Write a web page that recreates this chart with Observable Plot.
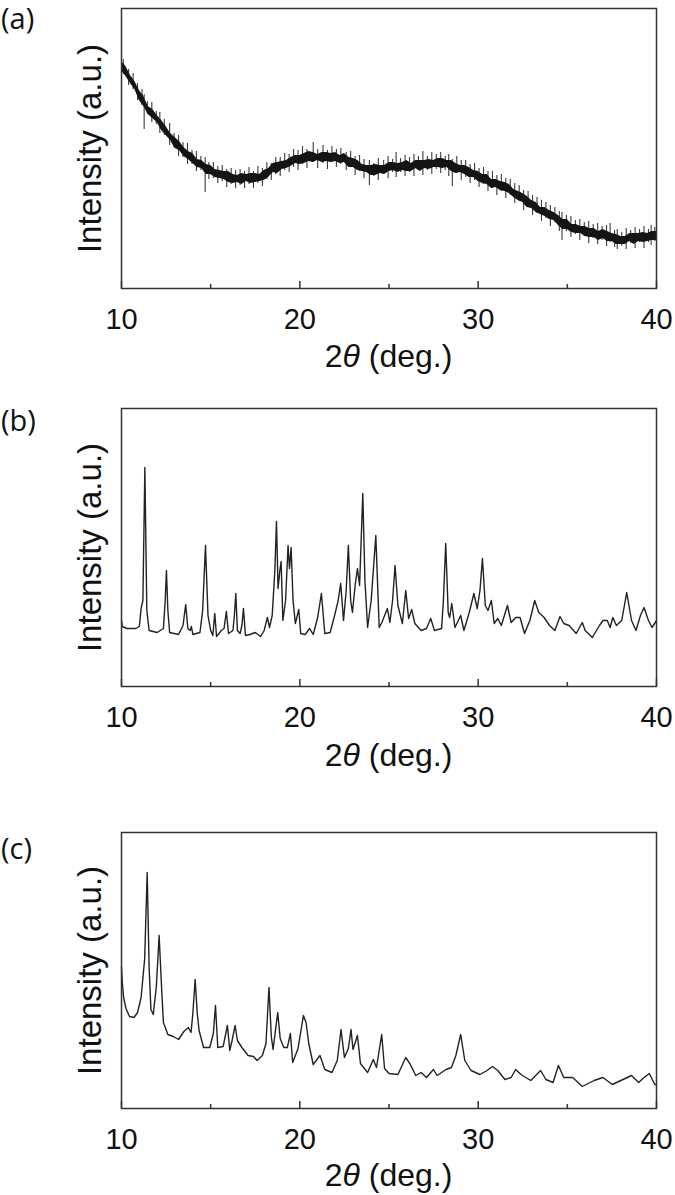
<!DOCTYPE html>
<html><head><meta charset="utf-8">
<script src="https://cdn.jsdelivr.net/npm/d3@7"></script>
<script src="https://cdn.jsdelivr.net/npm/@observablehq/plot@0.6"></script>
<style>
body{margin:0;background:#fff;width:675px;height:1195px;position:relative;overflow:hidden;font-family:"Liberation Sans",Arial,sans-serif;color:#111;}
.panel{position:absolute;left:0;width:675px;z-index:1;}
.tag{position:absolute;left:1px;z-index:3;font-family:"Open Sans","Noto Sans",sans-serif;font-size:29px;line-height:32px;}
.xlabel{position:absolute;left:121px;width:535px;z-index:3;text-align:center;font-size:32px;line-height:36px;}
</style></head>
<body>
<div class="tag" style="top:2px">(a)</div>
<div class="tag" style="top:404px">(b)</div>
<div class="tag" style="top:832px">(c)</div>
<div id="pa" class="panel" style="top:0px"></div>
<div id="pb" class="panel" style="top:400px"></div>
<div id="pc" class="panel" style="top:824px"></div>
<div class="xlabel" style="top:338px">2<i>θ</i> (deg.)</div>
<div class="xlabel" style="top:737px">2<i>θ</i> (deg.)</div>
<div class="xlabel" style="top:1157px">2<i>θ</i> (deg.)</div>
<script>
// tick values
const majorTicks = [10, 20, 30, 40];
const minorTicks = [15, 25, 35];

// (a) amorphous pattern: centre of the noisy band and its spread (a.u.)
const aAngle = [10,10.25,10.5,10.75,11,11.25,11.5,11.75,12,12.25,12.5,12.75,13,13.25,13.5,13.75,14,14.25,14.5,14.75,15,15.25,15.5,15.75,16,16.25,16.5,16.75,17,17.25,17.5,17.75,18,18.25,18.5,18.75,19,19.25,19.5,19.75,20,20.25,20.5,20.75,21,21.25,21.5,21.75,22,22.25,22.5,22.75,23,23.25,23.5,23.75,24,24.25,24.5,24.75,25,25.25,25.5,25.75,26,26.25,26.5,26.75,27,27.25,27.5,27.75,28,28.25,28.5,28.75,29,29.25,29.5,29.75,30,30.25,30.5,30.75,31,31.25,31.5,31.75,32,32.25,32.5,32.75,33,33.25,33.5,33.75,34,34.25,34.5,34.75,35,35.25,35.5,35.75,36,36.25,36.5,36.75,37,37.25,37.5,37.75,38,38.25,38.5,38.75,39,39.25,39.5,39.75,40];
const aCenter = [223,216,210,202,194,186,179,174,169,163,158,152,146,141,137,133,129,126,123,120,118,116,114,112,111,110,110,110,110,110,110,111,113,116,119,121,123,125,126,128,129,130,131,132,131,131,131,131,131,130,129,127,125,123,121,119,118,118,119,120,121,121,121,122,122,122,123,123,124,124,125,125,125,124,122,121,120,118,116,114,112,110,108,106,104,103,101,99,96,93,89,87,84,81,78,76,74,71,68,65,63,61,59,58,57,56,55,54,53,52,51,49,48,49,50,50,51,51,51,52,53];
const aUp = [4,6,3,5,4,6,3,5,4,5,4,3,5,6,4,4,6,3,5,4,5,3,4,5,6,4,3,5,4,5,5,3,5,4,6,5,4,3,5,5,4,5,6,4,3,5,5,4,5,3,6,4,5,5,3,4,5,6,4,3,5,5,4,4,6,3,5,5,4,5,3,5,5,4,6,4,3,5,5,4,5,4,6,3,5,4,5,5,3,4,6,5,4,5,3,5,4,5,5,4,6,3,5,4,5,4,5,3,6,5,4,5,4,3,5,5,4,5,4,5,4];
const aDown = [5,4,5,3,6,4,5,4,3,5,5,4,6,3,5,4,4,5,3,6,4,5,4,3,5,5,4,6,3,5,4,4,5,5,3,6,4,5,4,3,5,5,4,6,3,5,4,5,4,5,3,6,4,5,4,3,5,5,4,6,4,3,5,4,5,5,3,6,4,5,4,4,5,3,5,6,4,4,5,3,5,5,4,6,3,5,4,4,5,5,3,6,4,5,4,4,5,3,5,6,4,5,4,3,5,5,4,6,3,5,4,5,4,5,3,6,4,5,4,4,5];
// (a) individual noise spikes: angle, lowest and highest reading
const aSpikeAngle = [10.1,10.4,10.65,10.9,11.15,11.27,11.45,11.7,11.95,12.15,12.4,12.7,12.95,13.2,13.45,13.7,13.95,14.2,14.45,14.69,14.9,15.15,15.4,15.65,15.9,16.15,16.4,16.65,16.9,17.15,17.4,17.65,17.9,18.15,18.4,18.65,18.9,19.15,19.4,19.65,19.9,20.15,20.4,20.75,21,21.3,21.55,21.8,22.05,22.3,22.6,22.85,23.1,23.35,23.6,23.9,24.15,24.4,24.7,24.95,25.2,25.4,25.65,25.9,26.15,26.4,26.65,26.9,27.15,27.4,27.65,27.9,28.15,28.35,28.55,28.8,29.05,29.3,29.55,29.8,30.05,30.3,30.55,30.8,31.05,31.3,31.55,31.8,32.05,32.3,32.55,32.8,33.05,33.3,33.55,33.8,34.05,34.3,34.55,34.7,34.95,35.2,35.45,35.7,35.95,36.2,36.45,36.7,36.95,37.2,37.4,37.65,37.8,38.05,38.3,38.55,38.8,39.05,39.3,39.55,39.7,39.9];
const aSpikeLow = [214,203,199,188,183,159,174,166,164,155,153,143,141,132,131,124,124,117,118,96,109,110,105,107,101,104,100,103,100,104,100,105,102,109,108,114,112,118,116,121,118,124,120,126,120,125,119,126,121,124,118,121,113,117,110,103,112,108,114,110,116,111,116,112,116,112,118,113,118,114,119,115,118,112,102,115,108,111,105,108,101,104,97,100,93,97,90,93,85,87,78,81,73,75,67,70,62,66,57,48,57,51,54,48,52,45,50,44,48,42,46,41,39,42,39,45,40,46,40,46,43,47];
const aSpikeHigh = [229,219,215,205,199,194,187,186,177,176,169,165,155,153,146,145,138,137,132,131,126,126,122,123,119,120,118,119,117,121,117,122,120,126,125,131,131,135,134,139,138,142,139,146,139,143,138,142,139,140,136,137,132,133,129,128,125,130,128,132,129,136,130,133,131,134,132,137,132,136,134,136,132,134,129,132,128,128,124,125,120,121,117,117,113,114,110,109,105,103,98,97,93,91,88,86,83,81,77,76,73,72,68,69,66,67,64,65,62,63,65,58,59,56,60,58,61,59,62,59,63,61];

// (b) crystalline pattern
const bAngle = [10,10.05,10.3,10.8,11,11.1,11.2,11.31,11.42,11.55,12,12.35,12.45,12.52,12.6,12.7,13.2,13.45,13.6,13.72,13.85,13.92,14,14.4,14.55,14.71,14.85,15,15.12,15.23,15.33,15.6,15.75,15.88,16,16.25,16.33,16.41,16.5,16.65,16.75,16.84,16.95,17.2,17.5,17.8,18,18.18,18.3,18.45,18.6,18.69,18.78,18.88,18.95,19.05,19.2,19.34,19.42,19.51,19.62,19.75,19.94,20.05,20.3,20.55,20.75,21,21.21,21.4,21.7,21.95,22.15,22.29,22.45,22.6,22.72,22.85,22.95,23.1,23.23,23.35,23.53,23.65,23.8,24,24.26,24.45,24.6,24.91,25.05,25.2,25.34,25.5,25.75,25.94,26.1,26.27,26.45,26.8,27.1,27.34,27.55,27.95,28.05,28.18,28.32,28.4,28.52,28.7,29.02,29.2,29.5,29.76,29.95,30.1,30.24,30.4,30.55,30.74,30.9,31.1,31.3,31.64,31.85,32.1,32.35,32.6,32.9,33.17,33.4,33.7,34,34.3,34.59,34.8,35.1,35.5,35.84,36,36.4,36.8,37,37.24,37.4,37.55,37.75,38.05,38.33,38.6,38.85,39.1,39.3,39.55,39.75,40];
const bIntensity = [66,60,58,58,60,78,86,219,76,56,54,58,86,116,76,54,52,61,82,58,56,60,52,54,76,141,71,56,51,73,50,56,58,75,53,56,71,93,56,53,61,78,51,52,54,50,56,69,59,71,116,165,98,116,125,66,86,141,118,139,86,63,77,53,52,58,52,69,93,53,54,71,86,103,66,96,141,86,74,101,118,101,193,106,59,86,151,59,64,78,64,86,121,81,63,96,68,77,63,56,58,68,56,58,86,143,74,69,83,59,71,56,74,93,78,96,128,81,76,86,63,68,61,81,64,69,69,53,66,86,74,69,61,56,70,63,61,53,64,56,49,61,66,66,59,69,61,66,94,66,56,71,79,66,59,66];

// (c) pattern on a decaying background
const cAngle = [10,10.05,10.12,10.25,10.45,10.7,10.9,11.1,11.3,11.44,11.55,11.65,11.78,11.95,12.11,12.25,12.35,12.6,12.9,13.2,13.5,13.75,13.9,14,14.13,14.25,14.35,14.6,14.95,15.15,15.27,15.4,15.7,15.94,16.07,16.2,16.37,16.5,16.75,17.1,17.4,17.6,17.9,18.1,18.27,18.4,18.5,18.76,18.9,19.1,19.3,19.47,19.6,19.9,20.2,20.35,20.5,20.75,21.13,21.4,21.8,22.1,22.31,22.5,22.72,22.87,22.98,23.23,23.4,23.8,24.12,24.3,24.59,24.75,25,25.5,25.94,26.2,26.5,26.8,27.1,27.49,27.7,28.2,28.5,28.75,29.02,29.25,29.6,30.1,30.5,30.8,31.1,31.5,31.85,32.1,32.4,32.95,33.5,33.8,34.2,34.5,34.8,35.3,35.84,36.5,37,37.52,38,38.6,39,39.3,39.6,39.9,40];
const cIntensity = [141,125,111,100,92,91,96,111,150,236,140,99,94,121,173,120,86,74,72,69,77,81,76,95,129,95,78,61,61,75,103,61,62,83,58,68,83,68,61,53,52,48,53,65,121,72,59,96,70,61,61,75,46,60,93,86,65,44,53,39,36,48,79,51,60,79,59,73,45,36,49,41,74,40,35,34,51,44,33,36,31,39,33,39,41,53,74,48,38,34,38,42,38,29,31,39,34,28,38,29,26,43,31,31,22,28,31,24,28,33,26,31,35,24,24];

const toRows = (xs, ys) => xs.map((x, i) => ({x, y: ys[i]}));
const font = {fontFamily: "'Liberation Sans', Arial, sans-serif", fontSize: "29px", color: "#111", background: "transparent", overflow: "visible"};

function axesMarks(frameH) {
  return [
    Plot.frame({stroke: "#333", strokeWidth: 1.5}),
    Plot.tickX(majorTicks, {x: d => d, insetTop: frameH - 7, stroke: "#333", strokeWidth: 1.5}),
    Plot.tickX(minorTicks, {x: d => d, insetTop: frameH - 4, stroke: "#333", strokeWidth: 1.5}),
    Plot.axisX({ticks: majorTicks, tickSize: 0, tickPadding: 20, tickFormat: d => String(d), label: null, fontSize: 29, fill: "#111"}),
    Plot.text([0], {frameAnchor: "left", text: () => "Intensity (a.u.)", rotate: -90, dx: -31, fontSize: 33, textAnchor: "middle", lineAnchor: "middle", fill: "#111"})
  ];
}

function panel(height, mb, frameH, marks) {
  return Plot.plot({
    width: 675, height, marginLeft: 121, marginRight: 19, marginTop: 8, marginBottom: mb,
    x: {domain: [10, 40], axis: null},
    y: {domain: [0, frameH], axis: null},
    style: font,
    marks: [...marks, ...axesMarks(frameH)]
  });
}

// (a)
const aRows = aAngle.map((x, i) => ({x, lo: aCenter[i] - aDown[i], hi: aCenter[i] + aUp[i]}));
const aSpikes = aSpikeAngle.map((x, i) => ({x, lo: aSpikeLow[i], hi: aSpikeHigh[i]}));
document.getElementById("pa").append(panel(380, 92, 280, [
  Plot.ruleX(aSpikes, {x: "x", y1: "lo", y2: "hi", stroke: "#3a3a3a", strokeWidth: 1.1}),
  Plot.areaY(aRows, {x: "x", y1: "lo", y2: "hi", fill: "#141414"})
]));

// (b)
document.getElementById("pb").append(panel(380, 94, 278, [
  Plot.line(toRows(bAngle, bIntensity), {x: "x", y: "y", stroke: "#222", strokeWidth: 1.4})
]));

// (c)
document.getElementById("pc").append(panel(371, 87, 276, [
  Plot.line(toRows(cAngle, cIntensity), {x: "x", y: "y", stroke: "#222", strokeWidth: 1.4})
]));
</script>
</body></html>
